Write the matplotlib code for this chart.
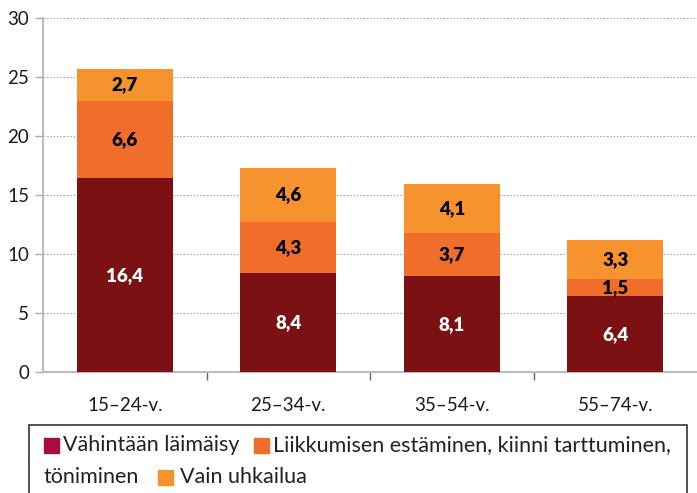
import matplotlib
matplotlib.use("Agg")
import matplotlib.pyplot as plt
from matplotlib.patches import Rectangle
import numpy as np

plt.rcParams["font.family"] = ["Lato", "DejaVu Sans"]

# data
categories = ["15–24-v.", "25–34-v.", "35–54-v.", "55–74-v."]
vahintaan = [16.4, 8.4, 8.1, 6.4]
liikkuminen = [6.6, 4.3, 3.7, 1.5]
uhkailu = [2.7, 4.6, 4.1, 3.3]
series_names = [
    "Vähintään läimäisy",
    "Liikkumisen estäminen, kiinni tarttuminen,",
    "töniminen",
    "Vain uhkailua",
]

bar_colors = ["#7B1113", "#F06E2A", "#F7932E"]
legend_colors = ["#A50F3F", "#F06E2A", "#F7932E"]

W, H = 697, 493
fig = plt.figure(figsize=(W / 100, H / 100), dpi=100)
ax = fig.add_axes([43 / W, (H - 372) / H, (W - 43) / W, 354 / H])

x = np.arange(len(categories))
width = 0.585
bottom = np.zeros(len(categories))
for vals, col, txtcol in zip([vahintaan, liikkuminen, uhkailu], bar_colors,
                             ["white", "black", "black"]):
    ax.bar(x, vals, width, bottom=bottom, color=col, zorder=3)
    for xi, b, v in zip(x, bottom, vals):
        ax.text(xi, b + v / 2, f"{v:.1f}".replace(".", ","), ha="center",
                va="center", color=txtcol, fontsize=13.5, fontweight="heavy", zorder=4)
    bottom += np.array(vals)

ax.set_xlim(-0.5, 3.5)
ax.set_ylim(0, 30)
ax.set_yticks(range(0, 31, 5))
ax.yaxis.grid(True, linestyle=(0, (1.5, 1.5)), color="#aaaaaa", linewidth=0.8, zorder=0)
ax.set_xticks(x)
ax.set_xticklabels(categories)
ax.set_xticks([0.5, 1.5, 2.5], minor=True)
ax.tick_params(axis="x", which="major", length=0, pad=18, labelsize=13.5,
               labelcolor="#1a1a1a")
ax.tick_params(axis="x", which="minor", length=6, color="#666666", width=1)
ax.tick_params(axis="y", length=6, color="#aaaaaa", width=1, labelsize=13.5,
               pad=4, labelcolor="#1a1a1a")

for s in ["top", "right"]:
    ax.spines[s].set_visible(False)
for s in ["left", "bottom"]:
    ax.spines[s].set_color("#bbbbbb")
    ax.spines[s].set_linewidth(1.5)


def fx(px):
    return px / W


def fy(py):
    return 1 - py / H


# legend box drawn by hand (wrapping legend)
fig.patches.append(Rectangle((fx(29), fy(500)), fx(687) - fx(29), fy(425) - fy(500),
                             transform=fig.transFigure, fill=False,
                             edgecolor="#333333", linewidth=1.2))

sq = 15
items = [
    (44, 445, legend_colors[0], series_names[0], 63),
    (254, 445, legend_colors[1], series_names[1], 273),
    (158, 477, legend_colors[2], series_names[3], 180),
]
for px, py, col, label, tx in items:
    fig.patches.append(Rectangle((fx(px), fy(py + sq / 2)), fx(sq), sq / H,
                                 transform=fig.transFigure, color=col))
    fig.text(fx(tx), fy(py), label, fontsize=15.5, va="center", ha="left",
             color="#222222")
fig.text(fx(44), fy(477), series_names[2], fontsize=15.5, va="center", ha="left",
         color="#222222")

fig.savefig("out.png", dpi=100)
